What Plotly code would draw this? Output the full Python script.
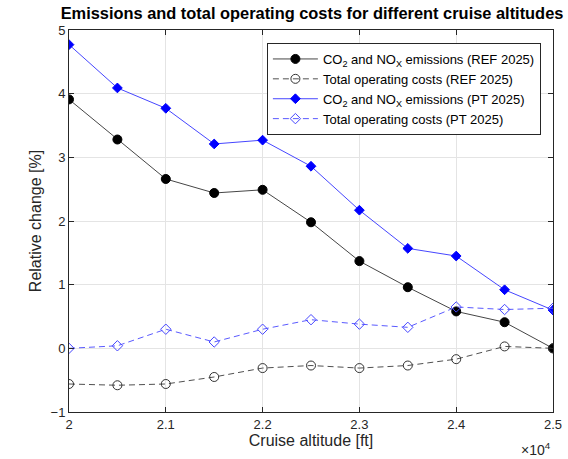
import plotly.graph_objects as go

altitude = [20000, 20500, 21000, 21500, 22000, 22500, 23000, 23500, 24000, 24500, 25000]
ref_emissions = [3.91, 3.28, 2.66, 2.44, 2.49, 1.98, 1.37, 0.96, 0.58, 0.41, 0.0]
ref_costs = [-0.56, -0.58, -0.56, -0.45, -0.31, -0.27, -0.31, -0.27, -0.17, 0.03, 0.0]
pt_emissions = [4.77, 4.09, 3.77, 3.21, 3.27, 2.86, 2.17, 1.57, 1.45, 0.92, 0.60]
pt_costs = [0.0, 0.04, 0.30, 0.10, 0.30, 0.45, 0.38, 0.33, 0.65, 0.61, 0.63]

x_tickvals = [20000, 21000, 22000, 23000, 24000, 25000]
x_ticktext = ["2", "2.1", "2.2", "2.3", "2.4", "2.5"]
y_tickvals = [-1, 0, 1, 2, 3, 4, 5]

FONT = "Liberation Sans, Arial, sans-serif"
AX = "rgb(38,38,38)"

fig = go.Figure()
fig.add_trace(go.Scatter(
    x=altitude, y=ref_emissions, mode="lines+markers",
    name="CO<sub>2</sub> and NO<sub>X</sub> emissions (REF 2025)",
    line=dict(color="rgb(70,70,70)", width=1),
    marker=dict(symbol="circle", size=9, color="black", line=dict(color="black", width=1)),
))
fig.add_trace(go.Scatter(
    x=altitude, y=ref_costs, mode="lines+markers",
    name="Total operating costs (REF 2025)",
    line=dict(color="rgb(80,80,80)", width=1, dash="6px,4px"),
    marker=dict(symbol="circle-open", size=9, color="rgb(50,50,50)", line=dict(width=1)),
))
fig.add_trace(go.Scatter(
    x=altitude, y=pt_emissions, mode="lines+markers",
    name="CO<sub>2</sub> and NO<sub>X</sub> emissions (PT 2025)",
    line=dict(color="rgb(70,70,255)", width=1),
    marker=dict(symbol="diamond", size=7.5, color="rgb(0,0,255)", line=dict(color="rgb(0,0,255)", width=1)),
))
fig.add_trace(go.Scatter(
    x=altitude, y=pt_costs, mode="lines+markers",
    name="Total operating costs (PT 2025)",
    line=dict(color="rgb(90,90,255)", width=1, dash="6px,4px"),
    marker=dict(symbol="diamond-open", size=8, color="rgb(70,70,255)", line=dict(width=1)),
))

fig.update_layout(
    width=568, height=459,
    margin=dict(l=69, r=15, t=30, b=47),
    paper_bgcolor="white", plot_bgcolor="white",
    font=dict(family=FONT, size=13, color=AX),
    title=dict(text="<b>Emissions and total operating costs for different cruise altitudes</b>",
               x=312 / 568, xanchor="center", y=1 - 8 / 459, yanchor="top",
               font=dict(size=16.4, color="black")),
    legend=dict(x=0.975, y=0.966, xanchor="right", yanchor="top",
                bgcolor="white", bordercolor=AX, borderwidth=1,
                font=dict(size=13, color="black"),
                itemwidth=45),
    showlegend=True,
)
fig.update_xaxes(
    range=[20000, 25000], tickvals=x_tickvals, ticktext=x_ticktext,
    showgrid=True, gridcolor="rgb(228,228,228)", gridwidth=1,
    showline=True, linecolor=AX, linewidth=1, mirror="ticks",
    ticks="inside", ticklen=5, tickcolor=AX,
    zeroline=False, automargin=False,
    title=dict(text="Cruise altitude [ft]", standoff=0, font=dict(size=16)),
    tickfont=dict(size=13),
)
fig.update_yaxes(
    range=[-1, 5], tickvals=y_tickvals,
    showgrid=True, gridcolor="rgb(228,228,228)", gridwidth=1,
    showline=True, linecolor=AX, linewidth=1, mirror="ticks",
    ticks="inside", ticklen=5, tickcolor=AX,
    zeroline=False, automargin=False,
    title=dict(text="Relative change [%]", standoff=4, font=dict(size=16)),
    tickfont=dict(size=13),
)
fig.add_annotation(
    text="\u00d710<sup>4</sup>", xref="paper", yref="paper",
    x=1.0, y=-0.098, xanchor="right", yanchor="middle", showarrow=False,
    font=dict(size=14, color=AX),
)

fig.write_html("out.html", config={"displayModeBar": False},
               post_script="document.body.style.margin='0';document.body.style.padding='0';")
